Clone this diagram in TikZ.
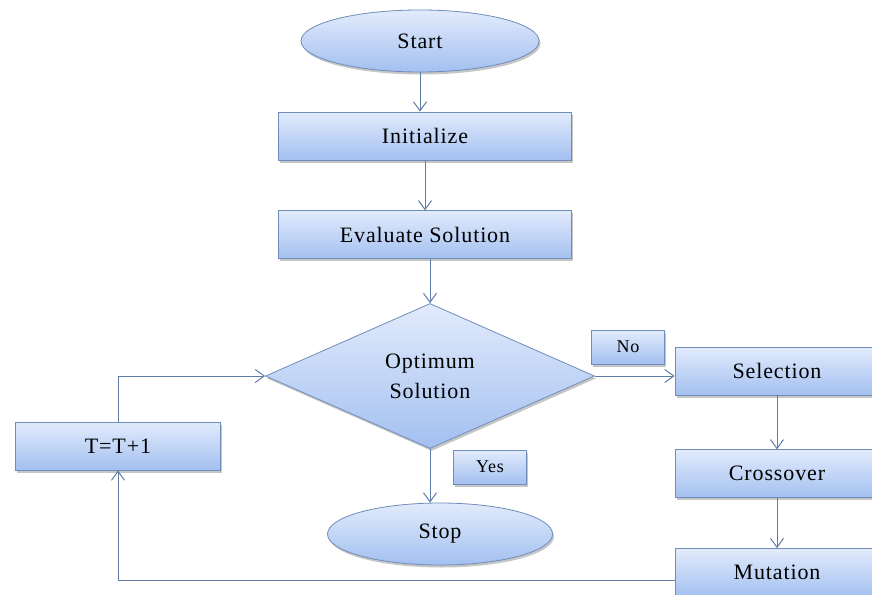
\documentclass[tikz,border=0pt]{standalone}
\usepackage{fontspec}
\setmainfont{Liberation Serif}[LetterSpace=4]
\usepackage{xcolor}
\usetikzlibrary{positioning,arrows.meta,shapes.geometric,shadows}
\definecolor{boxtop}{HTML}{E2EBFC}
\definecolor{boxbot}{HTML}{A3C0F0}
\definecolor{boxline}{HTML}{6F8DB8}
\definecolor{flowline}{HTML}{5E7CA6}

\begin{document}
\begin{tikzpicture}[
  x=1pt, y=1pt,
  every node/.style={font=\fontsize{22}{30}\selectfont, text=black},
  box/.style={draw=boxline, line width=0.8pt, top color=boxtop, bottom color=boxbot,
              minimum width=293pt, minimum height=48pt, inner sep=2pt,
              drop shadow={shadow xshift=1.5pt, shadow yshift=-2.5pt, opacity=0.45}},
  tag/.style={box, minimum width=73pt, minimum height=34pt, font=\fontsize{18}{20}\selectfont},
  term/.style={box, ellipse, minimum width=238pt, minimum height=62pt},
  decide/.style={box, diamond, minimum width=329pt, minimum height=145pt, inner sep=0pt, align=center},
  arrow/.style={-{Straight Barb[length=9pt,width=13pt]}, flowline, line width=1pt}
]
\useasboundingbox (0,0) rectangle (872,-594);

\node[term] (start) at (420,-41) {Start};
\node[box] (init) at (425,-136) {Initialize};
\node[box, below=50pt of init] (eval) {Evaluate Solution};
\node[decide] (opt) at (430,-376) {Optimum\\Solution};
\node[term, minimum width=225pt] (stop) at (440,-534) {Stop};
\node[tag] (no) at (628,-347) {No};
\node[tag] (yes) at (490,-467) {Yes};
\node[box, minimum width=204pt] (sel) at (777,-371) {Selection};
\node[box, minimum width=204pt, below=54pt of sel] (cross) {Crossover};
\node[box, minimum width=204pt, below=50pt of cross] (mut) {Mutation};
\node[box, minimum width=205pt] (incr) at (118,-446) {T=T+1};

\draw[arrow] (start.south) -- (start.south |- init.north);
\draw[arrow] (init) -- (eval);
\draw[arrow] (eval.south -| opt.north) -- (opt.north);
\draw[arrow] (opt.east) -- (sel.west |- opt.east);
\draw[arrow] (opt.south) -- (opt.south |- stop.north);
\draw[arrow] (sel) -- (cross);
\draw[arrow] (cross) -- (mut);
\draw[arrow] ([yshift=-8pt]mut.west) -| (incr.south);
\draw[arrow] (incr.north) |- (opt.west);
\end{tikzpicture}
\end{document}
